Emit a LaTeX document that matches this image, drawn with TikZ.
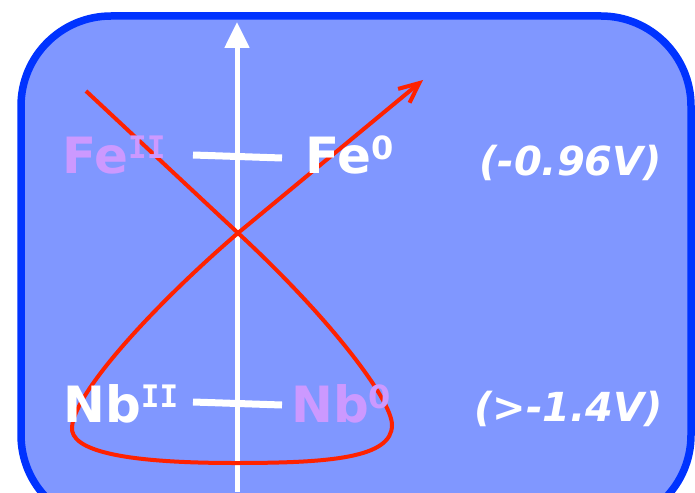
\documentclass[tikz,border=0pt]{standalone}
\usepackage{fontspec}
\setmainfont{DejaVu Sans}
\newfontfamily\romf{DejaVu Sans Mono}
\usetikzlibrary{arrows.meta}
\definecolor{panel}{RGB}{128,151,255}
\definecolor{rim}{RGB}{0,51,255}
\definecolor{curvec}{RGB}{255,34,0}
\definecolor{lilac}{RGB}{204,153,255}
\newcommand{\bigtxt}{\fontsize{50}{50}\selectfont\bfseries}
\newcommand{\supR}[1]{\raisebox{15pt}{\fontsize{31}{31}\selectfont\bfseries\romf #1}}
\newcommand{\supD}[1]{\raisebox{14pt}{\fontsize{32}{32}\selectfont\bfseries #1}}
\tikzset{
  lbl/.style={inner sep=0pt, anchor=base west, font=\bigtxt},
  volt/.style={inner sep=0pt, anchor=base west, text=white, font=\fontsize{40}{40}\selectfont\bfseries\itshape},
  tick/.style={white, line width=7pt},
}
\begin{document}
\begin{tikzpicture}[x=1pt,y=-1pt]
\useasboundingbox (0,0) rectangle (695,492);
\begin{scope}
\clip (0,0) rectangle (695,492);
\draw[rim, fill=panel, line width=7.5pt, rounded corners=90pt] (21,16) rectangle (691,525);
\end{scope}
% axis
\coordinate (ab) at (237,492);
\coordinate (at) at (237,22);
\draw[white, line width=5pt, -{Triangle[length=26pt,width=24pt]}] (ab) -- (at);
% levels
\coordinate (f1) at (193,155); \coordinate (f2) at (282,158);
\coordinate (n1) at (193,402); \coordinate (n2) at (282,405);
\draw[tick] (f1) -- (f2);
\draw[tick] (n1) -- (n2);
% red curve
\coordinate (c0) at (86,91);
\coordinate (cx) at (238,233);
\coordinate (c1) at (392,425);
\coordinate (c2) at (235,463);
\coordinate (c3) at (72,427);
\coordinate (ct) at (423,80);
\draw[curvec, line width=4pt, line join=round, -{Straight Barb[length=20pt,width=18pt]}]
  (c0) -- (cx) .. controls (330,318) and (392,400) .. (c1)
  .. controls (392,458) and (330,463) .. (c2)
  .. controls (120,463) and (70,450) .. (c3)
  .. controls (75,390) and (160,300) .. (cx) -- (ct);
% labels
\node[lbl, text=lilac] (fe2) at (62,173) {Fe\supR{II}};
\node[lbl, text=white] (fe0) at (305,173) {Fe\supD{0}};
\node[lbl, text=white] (nb2) at (63,422) {Nb\supR{II}};
\node[lbl, text=lilac] (nb0) at (291,422) {Nb\supD{0}};
\node[volt] (v1) at (479,175) {(-0.96V)};
\node[volt] (v2) at (474,421) {(>-1.4V)};
\end{tikzpicture}
\end{document}
